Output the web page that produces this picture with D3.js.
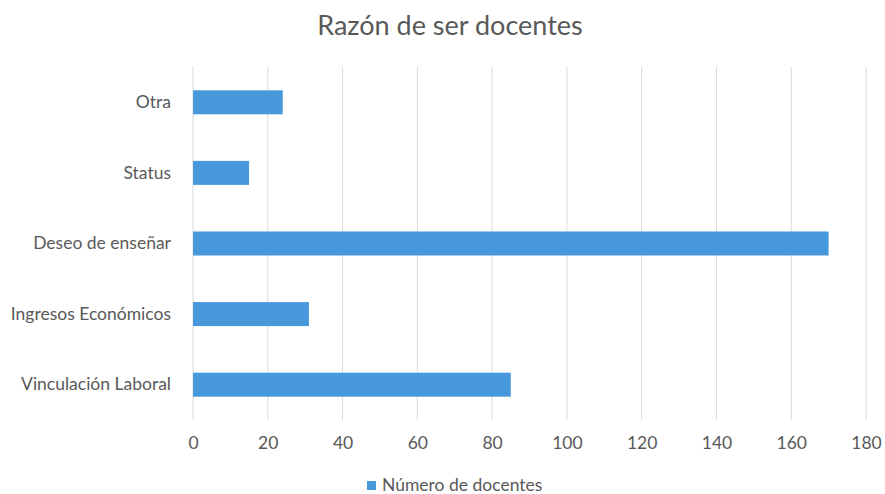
<!DOCTYPE html>
<html>
<head>
<meta charset="utf-8">
<script src="https://cdn.jsdelivr.net/npm/d3@7"></script>
<style>
  body { margin: 0; background: #fff; }
  text { font-family: Lato, "Open Sans", sans-serif; fill: #595959; }
</style>
</head>
<body>
<script>
// Datos
var categories = ["Otra", "Status", "Deseo de enseñar", "Ingresos Económicos", "Vinculación Laboral"];
var values = [24, 15, 170, 31, 85];
var ticks = [0, 20, 40, 60, 80, 100, 120, 140, 160, 180];
var seriesName = "Número de docentes";
var title = "Razón de ser docentes";

var width = 885, height = 494;
var color = "#4799dc";

var svg = d3.select("body").append("svg")
    .attr("width", width)
    .attr("height", height);

// Escalas
var x = d3.scaleLinear().domain([0, 180]).range([193, 866]);
var y = d3.scaleBand().domain(categories).range([67, 420]).paddingInner(0.66).paddingOuter(0.33);

// Titulo
svg.append("text")
    .attr("x", 450)
    .attr("y", 35)
    .attr("text-anchor", "middle")
    .attr("font-size", 27)
    .text(title);

// Cuadricula
svg.append("g")
    .selectAll("line")
    .data(ticks)
    .join("line")
    .attr("x1", d => x(d)).attr("x2", d => x(d))
    .attr("y1", 67).attr("y2", 420)
    .attr("stroke", "#d9d9d9")
    .attr("stroke-width", 1);

// Eje X
var xAxis = svg.append("g")
    .attr("transform", "translate(0,420)")
    .call(d3.axisBottom(x).tickValues(ticks).tickSize(0).tickPadding(17));
xAxis.select(".domain").remove();
xAxis.selectAll("text").attr("font-size", 17.5).style("fill", "#595959");

// Eje Y
var yAxis = svg.append("g")
    .attr("transform", "translate(171,0)")
    .call(d3.axisLeft(y).tickSize(0).tickPadding(0));
yAxis.select(".domain").remove();
yAxis.selectAll("text").attr("font-size", 17.5).style("fill", "#595959");

// Barras
svg.append("g")
    .selectAll("rect")
    .data(values)
    .join("rect")
    .attr("x", x(0))
    .attr("y", (d, i) => y(categories[i]))
    .attr("width", d => x(d) - x(0))
    .attr("height", y.bandwidth())
    .attr("fill", color);

// Leyenda
var legend = svg.append("g").attr("transform", "translate(367,481)");
legend.append("rect").attr("width", 9).attr("height", 9).attr("fill", color);
legend.append("text")
    .attr("x", 15).attr("y", 10)
    .attr("font-size", 17.5)
    .text(seriesName);
</script>
</body>
</html>
